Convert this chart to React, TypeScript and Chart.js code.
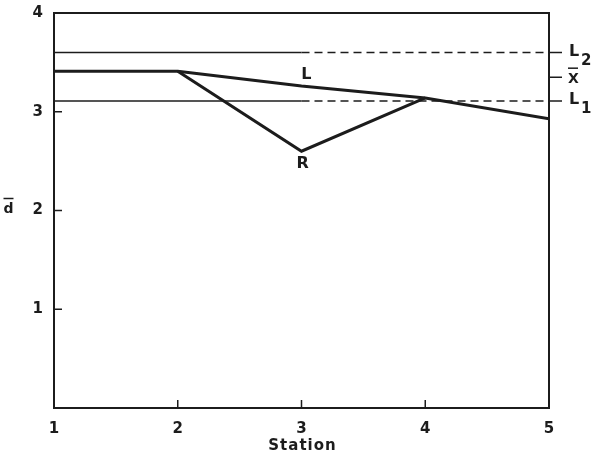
import React, { useEffect, useRef } from "react";
import { Chart, registerables } from "chart.js";

Chart.register(...registerables);

// Data
const stations = [1, 2, 3, 4, 5];
const lineL = [3.41, 3.41, 3.26, 3.14, 2.93];
const stationsR = [2, 3, 4];
const lineR = [3.41, 2.6, 3.14];
const limitStations = [1, 3, 5]; // solid up to station 3, dashed after
const upperLimit = 3.6; // L2
const meanValue = 3.35; // X-bar
const lowerLimit = 3.11; // L1
const xTicks = [1, 2, 3, 4, 5];
const yTicks = [1, 2, 3, 4];
const curveLabels = [
  { text: "L", x: 3.04, y: 3.37 },
  { text: "R", x: 3.01, y: 2.47 },
];

const INK = "#1c1c1c";
const FONT = "'DejaVu Sans', sans-serif";

const decorPlugin = {
  id: "decor",
  afterDraw(chart: any) {
    const { ctx, chartArea, scales } = chart;
    const xs = scales.x;
    const ys = scales.y;
    const { left, right, top, bottom } = chartArea;
    ctx.save();
    ctx.strokeStyle = INK;
    ctx.fillStyle = INK;
    // frame
    ctx.lineWidth = 2;
    ctx.strokeRect(left, top, right - left, bottom - top);
    // inward ticks
    ctx.lineWidth = 1.5;
    ctx.beginPath();
    yTicks.forEach((v) => {
      if (v === 4) return;
      const py = ys.getPixelForValue(v);
      ctx.moveTo(left, py);
      ctx.lineTo(left + 8, py);
    });
    xTicks.forEach((v) => {
      if (v === 1 || v === 5) return;
      const px = xs.getPixelForValue(v);
      ctx.moveTo(px, bottom);
      ctx.lineTo(px, bottom - 8);
    });
    // right-side control ticks
    [upperLimit, meanValue, lowerLimit].forEach((v) => {
      const py = ys.getPixelForValue(v);
      ctx.moveTo(right, py);
      ctx.lineTo(right + 13, py);
    });
    ctx.stroke();

    // right-side labels
    const lx = right + 20;
    ctx.textAlign = "left";
    ctx.textBaseline = "alphabetic";
    const pU = ys.getPixelForValue(upperLimit);
    ctx.font = `bold 16px ${FONT}`;
    ctx.fillText("L", lx, pU + 3);
    ctx.font = `bold 15px ${FONT}`;
    ctx.fillText("2", lx + 12, pU + 12);
    const pL = ys.getPixelForValue(lowerLimit);
    ctx.font = `bold 16px ${FONT}`;
    ctx.fillText("L", lx, pL + 3);
    ctx.font = `bold 15px ${FONT}`;
    ctx.fillText("1", lx + 12, pL + 12);
    const pM = ys.getPixelForValue(meanValue);
    ctx.font = `bold 14px ${FONT}`;
    ctx.fillText("X", lx - 1, pM + 6);
    ctx.lineWidth = 1.5;
    ctx.beginPath();
    ctx.moveTo(lx - 1, pM - 9);
    ctx.lineTo(lx + 9, pM - 9);
    ctx.stroke();

    // curve labels
    ctx.font = `bold 16px ${FONT}`;
    ctx.textAlign = "center";
    ctx.textBaseline = "middle";
    curveLabels.forEach((c) => {
      ctx.fillText(c.text, xs.getPixelForValue(c.x), ys.getPixelForValue(c.y));
    });

    // axis titles
    ctx.font = `bold 15px ${FONT}`;
    (ctx as any).letterSpacing = "1px";
    ctx.fillText("Station", (left + right) / 2 + 1, 446);
    (ctx as any).letterSpacing = "0px";
    ctx.font = `bold 14px ${FONT}`;
    const dy = ys.getPixelForValue(2) - 1;
    ctx.fillText("d", 8.5, dy);
    ctx.beginPath();
    ctx.moveTo(3.5, dy - 11);
    ctx.lineTo(13.5, dy - 11);
    ctx.stroke();
    ctx.restore();
  },
};

export default function App() {
  const ref = useRef<HTMLCanvasElement | null>(null);
  useEffect(() => {
    if (!ref.current) return;
    const limitData = (v: number) => limitStations.map((s) => ({ x: s, y: v }));
    const dashAfter = {
      borderDash: (c: any) => (c.p0DataIndex >= 1 ? [8, 5] : undefined),
    };
    const chart = new Chart(ref.current, {
      type: "line",
      data: {
        datasets: [
          {
            label: "L2",
            data: limitData(upperLimit),
            borderColor: INK,
            borderWidth: 1.5,
            pointRadius: 0,
            segment: dashAfter,
          } as any,
          {
            label: "L1",
            data: limitData(lowerLimit),
            borderColor: INK,
            borderWidth: 1.5,
            pointRadius: 0,
            segment: dashAfter,
          } as any,
          {
            label: "L",
            data: stations.map((s, i) => ({ x: s, y: lineL[i] })),
            borderColor: INK,
            borderWidth: 3,
            pointRadius: 0,
          },
          {
            label: "R",
            data: stationsR.map((s, i) => ({ x: s, y: lineR[i] })),
            borderColor: INK,
            borderWidth: 3,
            pointRadius: 0,
          },
        ],
      },
      options: {
        animation: false,
        responsive: false,
        layout: { padding: { top: 13, right: 51, left: 0, bottom: 0 } },
        plugins: { legend: { display: false }, tooltip: { enabled: false } },
        scales: {
          x: {
            type: "linear",
            min: 1,
            max: 5,
            afterFit: (s: any) => {
              s.height = 54;
              s.paddingLeft = 0;
              s.paddingRight = 0;
            },
            afterBuildTicks: (s: any) => {
              s.ticks = xTicks.map((v) => ({ value: v }));
            },
            grid: { display: false, drawTicks: false },
            border: { display: false },
            ticks: {
              padding: 12,
              color: INK,
              font: { family: FONT, size: 15, weight: "bold" },
              maxRotation: 0,
            },
          },
          y: {
            type: "linear",
            min: 0,
            max: 4,
            afterFit: (s: any) => {
              s.width = 54;
              s.paddingTop = 0;
              s.paddingBottom = 0;
            },
            afterBuildTicks: (s: any) => {
              s.ticks = yTicks.map((v) => ({ value: v }));
            },
            grid: { display: false, drawTicks: false },
            border: { display: false },
            ticks: {
              padding: 11,
              color: INK,
              font: { family: FONT, size: 15, weight: "bold" },
            },
          },
        },
      },
      plugins: [decorPlugin],
    });
    return () => chart.destroy();
  }, []);
  return (
    <div style={{ position: "fixed", left: 0, top: 0, width: 600, height: 462, background: "#fff" }}>
      <canvas ref={ref} width={600} height={462} style={{ width: 600, height: 462 }} />
    </div>
  );
}
